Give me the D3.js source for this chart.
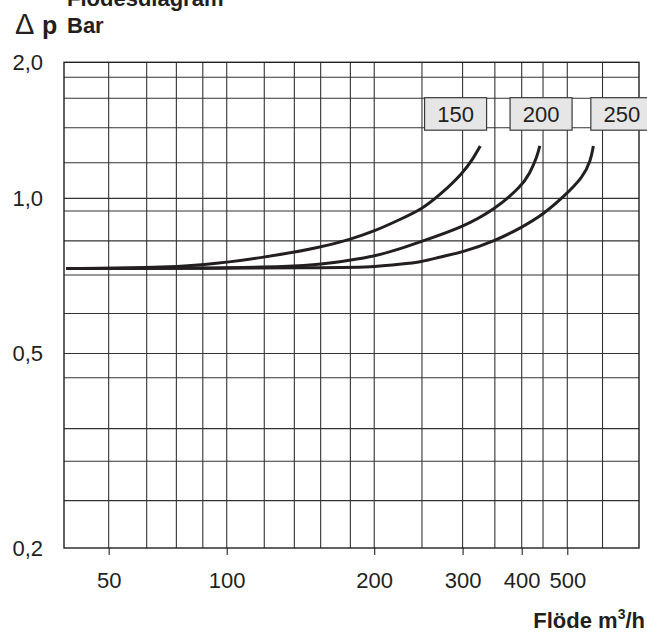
<!DOCTYPE html>
<html>
<head>
<meta charset="utf-8">
<script src="https://cdn.jsdelivr.net/npm/d3@7"></script>
<style>
  body { margin: 0; background: #fff; }
  text { font-family: "Liberation Sans", Arial, Helvetica, sans-serif; fill: #231f20; }
</style>
</head>
<body>
<div id="chart"></div>
<script>
// Data
const seriesNames = ["150", "200", "250"];
const flow150 = [39, 63.7, 87, 119.4, 155.5, 178.8, 200, 225, 249, 271, 300, 316, 327];
const dp150   = [0.731, 0.733, 0.741, 0.768, 0.803, 0.833, 0.863, 0.91, 0.953, 1.02, 1.136, 1.226, 1.306];
const flow200 = [39, 85.5, 136.8, 155.5, 178.8, 200, 225, 249, 300, 351, 400, 416, 430, 437];
const dp200   = [0.731, 0.732, 0.737, 0.745, 0.759, 0.772, 0.798, 0.826, 0.879, 0.952, 1.065, 1.136, 1.226, 1.306];
const flow250 = [39, 178.8, 200, 225, 249, 270.5, 300, 351, 400, 444, 491, 541, 561, 568];
const dp250   = [0.731, 0.733, 0.737, 0.745, 0.753, 0.77, 0.786, 0.827, 0.878, 0.93, 1.008, 1.116, 1.215, 1.306];

const xTickValues = [50, 100, 200, 300, 400, 500];
const xTickLabels = ["50", "100", "200", "300", "400", "500"];
const xGridValues = [50, 62.5, 74.4, 86.9, 100, 119.3, 137.4, 155.5, 178.8, 200, 249, 300, 351, 400, 444, 500, 594];
const yTickValues = [2, 1, 0.5, 0.2];
const yTickLabels = ["2,0", "1,0", "0,5", "0,2"];
const yGridValues = [1.853, 1.665, 1.433, 1.199, 1, 0.945, 0.827, 0.71, 0.598, 0.5, 0.446, 0.351, 0.301, 0.25];

// Layout
const W = 647, H = 633;
const margin = { left: 64, top: 62.3, right: 8, bottom: 85 };
const width = W - margin.left - margin.right;
const height = H - margin.top - margin.bottom;

// The printed grid is not a clean log scale, so use a piecewise log scale
const xKnots = [38.5, 50, 100, 200, 300, 400, 500, 710];
const xKnotPos = [0, 0.0777, 0.283, 0.5395, 0.6932, 0.796, 0.8753, 1];
const yKnots = [2, 1, 0.5, 0.2];
const yKnotPos = [0, 0.2802, 0.5995, 1];

const x = d3.scaleLog().domain(xKnots).range(xKnotPos.map(f => f * width));
const y = d3.scaleLog().domain(yKnots).range(yKnotPos.map(f => f * height));

const svg = d3.select("#chart")
    .append("svg")
    .attr("width", W)
    .attr("height", H);

const g = svg.append("g")
    .attr("transform", `translate(${margin.left},${margin.top})`);

// Grid
g.append("g")
    .selectAll("line")
    .data(xGridValues)
    .enter()
    .append("line")
    .attr("x1", d => x(d)).attr("x2", d => x(d))
    .attr("y1", 0).attr("y2", height)
    .attr("stroke", "#333")
    .attr("stroke-width", 1.1);

g.append("g")
    .selectAll("line")
    .data(yGridValues)
    .enter()
    .append("line")
    .attr("x1", 0).attr("x2", width)
    .attr("y1", d => y(d)).attr("y2", d => y(d))
    .attr("stroke", "#333")
    .attr("stroke-width", 1.1);

// Frame
g.append("rect")
    .attr("width", width)
    .attr("height", height)
    .attr("fill", "none")
    .attr("stroke", "#231f20")
    .attr("stroke-width", 1.4);

// X axis: ticks hang below the frame, labels further down
const xAxis = g.append("g")
    .attr("transform", `translate(0,${height})`)
    .call(d3.axisBottom(x)
        .tickValues(xTickValues)
        .tickFormat((d, i) => xTickLabels[i])
        .tickSize(7)
        .tickPadding(17));
xAxis.select(".domain").remove();
xAxis.selectAll(".tick line").attr("stroke", "#231f20").attr("stroke-width", 1.1);
xAxis.selectAll(".tick text")
    .attr("font-size", 22)
    .attr("fill", "#231f20");

// Y axis labels
const yAxis = g.append("g")
    .call(d3.axisLeft(y)
        .tickValues(yTickValues)
        .tickFormat((d, i) => yTickLabels[i])
        .tickSize(0)
        .tickPadding(21));
yAxis.select(".domain").remove();
yAxis.selectAll(".tick text")
    .attr("font-size", 22)
    .attr("fill", "#231f20");

// Curves
const series = [
    { name: seriesNames[0], flow: flow150, dp: dp150 },
    { name: seriesNames[1], flow: flow200, dp: dp200 },
    { name: seriesNames[2], flow: flow250, dp: dp250 }
];

// basis smooths out the small wobble in the hand-read points
const line = d3.line()
    .x(d => x(d[0]))
    .y(d => y(d[1]))
    .curve(d3.curveBasis);

g.append("g")
    .selectAll("path")
    .data(series)
    .enter()
    .append("path")
    .attr("d", s => line(s.flow.map((f, i) => [f, s.dp[i]])))
    .attr("fill", "none")
    .attr("stroke", "#231f20")
    .attr("stroke-width", 3)
    .attr("stroke-linecap", "butt");

// Size labels in grey boxes
const boxLeft = [252, 378, 561];
const boxW = 62, boxH = 32.5;
const boxes = g.append("g")
    .selectAll("g")
    .data(series)
    .enter()
    .append("g")
    .attr("transform", (s, i) => `translate(${x(boxLeft[i])},${y(1.665) - 0.6})`);

boxes.append("rect")
    .attr("width", boxW)
    .attr("height", boxH)
    .attr("fill", "#e6e6e6")
    .attr("stroke", "#3a3a3a")
    .attr("stroke-width", 1.2);

boxes.append("text")
    .attr("x", boxW / 2)
    .attr("y", boxH / 2)
    .attr("dy", "0.36em")
    .attr("text-anchor", "middle")
    .attr("font-size", 22)
    .text(s => s.name);

// Titles (the top title is clipped by the page edge, as in the original)
svg.append("text")
    .attr("x", 67)
    .attr("y", 5.5)
    .attr("font-size", 22)
    .attr("font-weight", "bold")
    .text("Flödesdiagram");

svg.append("text")
    .attr("x", 15)
    .attr("y", 34)
    .attr("font-size", 29)
    .text("\u0394");

svg.append("text")
    .attr("x", 42)
    .attr("y", 34)
    .attr("font-size", 25)
    .attr("font-weight", "bold")
    .text("p");

svg.append("text")
    .attr("x", 67)
    .attr("y", 33.3)
    .attr("font-size", 22)
    .attr("font-weight", "bold")
    .text("Bar");

const xt = svg.append("text")
    .attr("x", 645)
    .attr("y", 628.3)
    .attr("text-anchor", "end")
    .attr("font-size", 22)
    .attr("font-weight", "bold");
xt.append("tspan").text("Flöde m");
xt.append("tspan").attr("font-size", 14).attr("dy", -9).text("3");
xt.append("tspan").attr("dy", 9).text("/h");
</script>
</body>
</html>
